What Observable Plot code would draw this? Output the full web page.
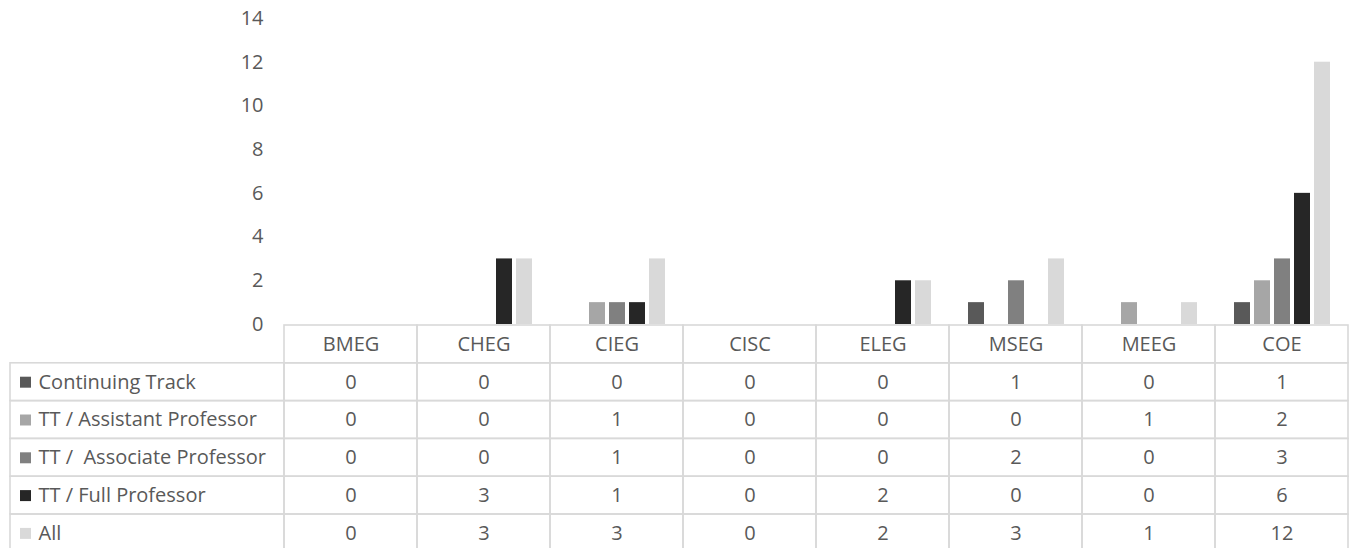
<!DOCTYPE html>
<html>
<head>
<meta charset="utf-8">
<script src="https://cdn.jsdelivr.net/npm/d3@7"></script>
<script src="https://cdn.jsdelivr.net/npm/@observablehq/plot@0.6"></script>
<style>
  html, body { margin: 0; padding: 0; background: #fff; }
  #wrap { position: relative; width: 1354px; height: 548px; overflow: hidden; font-family: "Open Sans", sans-serif; }
  #wrap svg text { white-space: pre; }
  .layer { position: absolute; left: 0; overflow: visible; }
</style>
</head>
<body>
<div id="wrap"></div>
<script>
const departments = ["BMEG", "CHEG", "CIEG", "CISC", "ELEG", "MSEG", "MEEG", "COE"];
const seriesNames = ["Continuing Track", "TT / Assistant Professor", "TT /  Associate Professor", "TT / Full Professor", "All"];
const continuingTrack = [0, 0, 0, 0, 0, 1, 0, 1];
const assistantProf   = [0, 0, 1, 0, 0, 0, 1, 2];
const associateProf   = [0, 0, 1, 0, 0, 2, 0, 3];
const fullProf        = [0, 3, 1, 0, 2, 0, 0, 6];
const allFaculty      = [0, 3, 3, 0, 2, 3, 1, 12];
const seriesColors = ["#595959", "#a6a6a6", "#808080", "#262626", "#d9d9d9"];
const yTicks = [0, 2, 4, 6, 8, 10, 12, 14];

const seriesValues = [continuingTrack, assistantProf, associateProf, fullProf, allFaculty];
const rows = [];
seriesNames.forEach((s, si) => departments.forEach((d, di) => rows.push({series: s, si, dept: d, di, value: seriesValues[si][di]})));

const textColor = "#595959";
const gridColor = "#d9d9d9";
const fontFamily = "'Open Sans', sans-serif";

// ---- Chart ----
const chart = Plot.plot({
  width: 1354,
  height: 325,
  marginLeft: 284,
  marginRight: 6,
  marginTop: 18,
  marginBottom: 1,
  style: {fontFamily, fontSize: "20px", color: textColor, background: "transparent", overflow: "visible"},
  fx: {domain: departments, padding: 0, axis: null, label: null},
  x: {domain: seriesNames, paddingInner: 0.2, paddingOuter: 0.875, axis: null, label: null},
  y: {domain: [0, 14], axis: null},
  color: {domain: seriesNames, range: seriesColors},
  marks: [
    Plot.axisY({ticks: yTicks, tickSize: 0, tickPadding: 21, label: null, tickFormat: d => String(d), facetAnchor: "left", fontSize: 20, fill: textColor}),
    Plot.barY(rows, {fx: "dept", x: "series", y: "value", fill: "series"})
  ]
});
chart.classList.add("layer");
chart.style.top = "0px";

// ---- Data table ----
const labelWidthUnits = 274 / 133;
const cells = [];
departments.forEach((d, di) => cells.push({x1: di, x2: di + 1, y1: 0, y2: 1, text: d}));
seriesNames.forEach((s, si) => {
  cells.push({x1: -labelWidthUnits, x2: 0, y1: si + 1, y2: si + 2, label: s, si});
  departments.forEach((d, di) => cells.push({x1: di, x2: di + 1, y1: si + 1, y2: si + 2, text: String(seriesValues[si][di])}));
});
const valueCells = cells.filter(c => c.text !== undefined);
const labelCells = cells.filter(c => c.label !== undefined);

const table = Plot.plot({
  width: 1354,
  height: 224,
  margin: 0,
  style: {fontFamily, fontSize: "20px", color: textColor, background: "transparent"},
  x: {type: "linear", domain: [0, 8], range: [284, 1348], axis: null},
  y: {type: "linear", domain: [0, 6], range: [1, 1 + 6 * 37.8], axis: null},
  marks: [
    Plot.rect(cells, {x1: "x1", x2: "x2", y1: "y1", y2: "y2", fill: "none", stroke: gridColor, strokeWidth: 1.6}),
    Plot.text(valueCells, {x: d => (d.x1 + d.x2) / 2, y: d => (d.y1 + d.y2) / 2, text: "text", fill: textColor, fontSize: 20}),
    Plot.dot(labelCells, {x: "x1", y: d => (d.y1 + d.y2) / 2, dx: 15, symbol: "square", r: 6.2, fill: d => seriesColors[d.si], stroke: "none"}),
    Plot.text(labelCells, {x: "x1", y: d => (d.y1 + d.y2) / 2, dx: 28, text: "label", textAnchor: "start", fill: textColor, fontSize: 20})
  ]
});
table.classList.add("layer");
table.style.top = "324px";

const wrap = document.getElementById("wrap");
wrap.appendChild(table);
wrap.appendChild(chart);
</script>
</body>
</html>
